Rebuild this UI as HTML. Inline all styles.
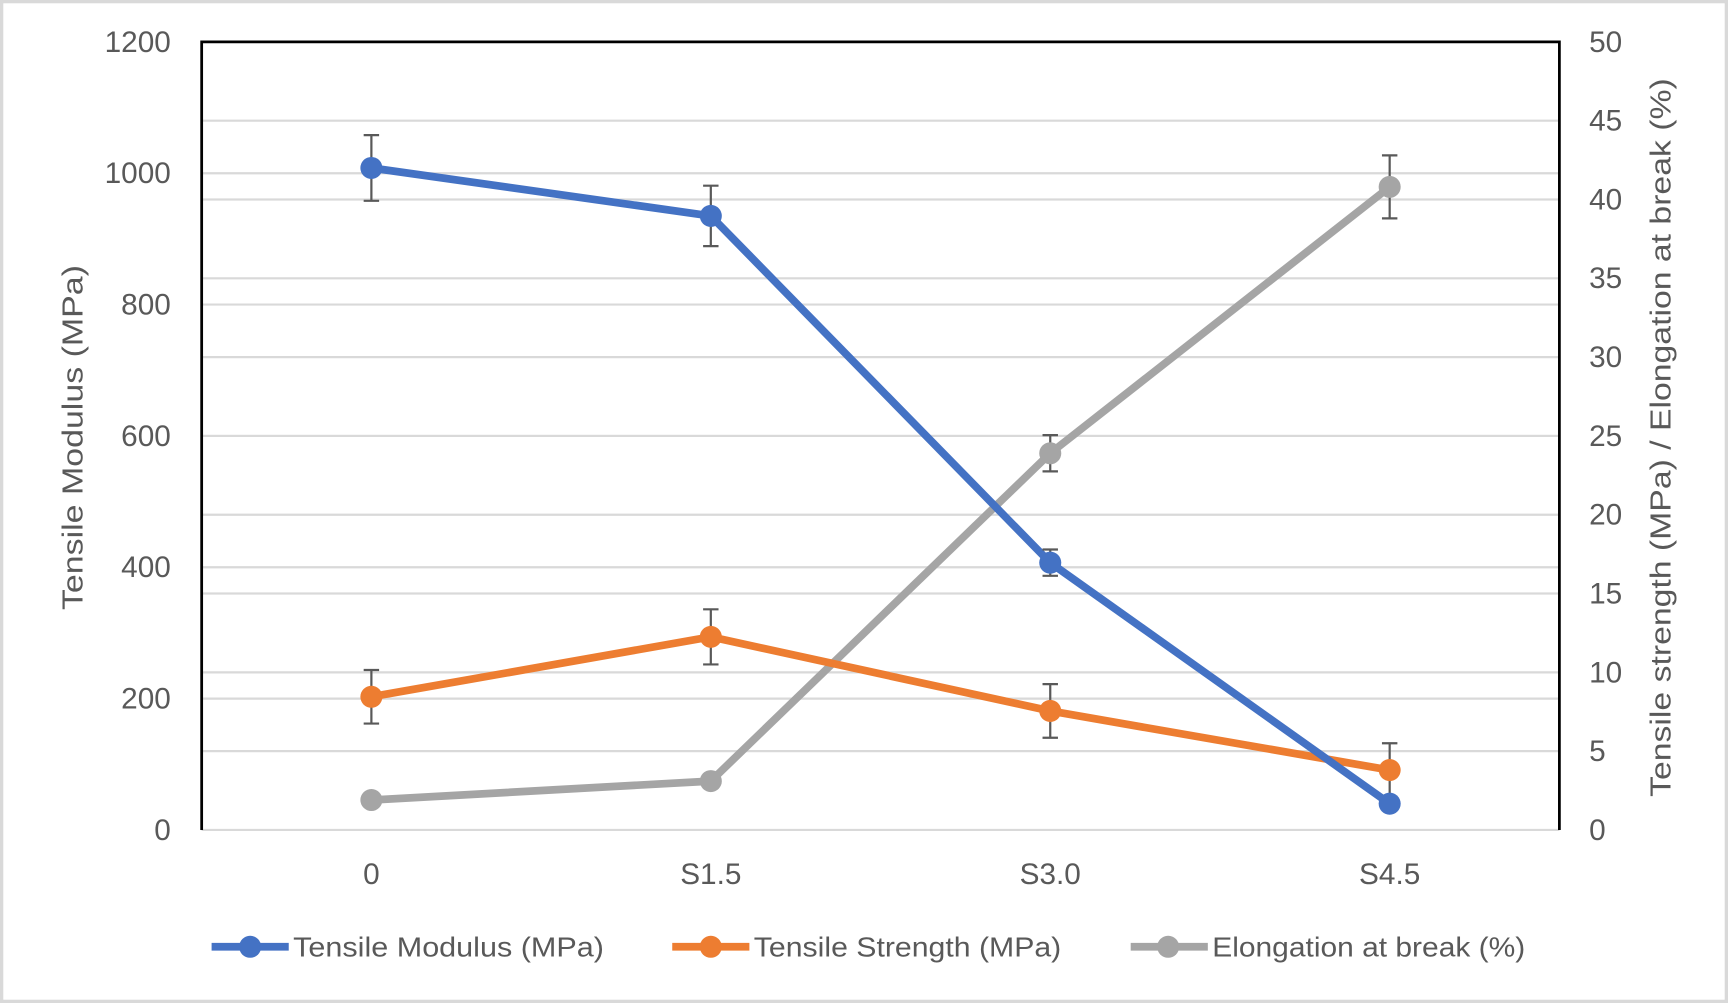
<!DOCTYPE html>
<html><head><meta charset="utf-8"><style>
html,body{margin:0;padding:0;background:#fff}
svg{display:block}
text{font-family:"Liberation Sans",sans-serif;fill:#595959}
</style></head><body>
<svg id="chart" width="1728" height="1003" viewBox="0 0 1568 910" preserveAspectRatio="none" xmlns="http://www.w3.org/2000/svg">
<rect x="1.5" y="1.5" width="1565" height="907" fill="#fff" stroke="#d9d9d9" stroke-width="3"/>
<g id="grid"></g>
<g id="axes"></g>
<g id="series"></g>
<text transform="translate(75,397) rotate(-90)" text-anchor="middle" font-size="26" textLength="313" lengthAdjust="spacingAndGlyphs">Tensile Modulus (MPa)</text>
<text transform="translate(1516,397) rotate(-90)" text-anchor="middle" font-size="26" textLength="652" lengthAdjust="spacingAndGlyphs">Tensile strength (MPa) / Elongation at break (%)</text>
<g>
 <g>
  <line x1="192" y1="859" x2="262" y2="859" stroke="#4472c4" stroke-width="7"/>
  <circle cx="227" cy="859" r="10" fill="#4472c4"/>
  <text x="266" y="868" font-size="25" textLength="282" lengthAdjust="spacingAndGlyphs">Tensile Modulus (MPa)</text>
 </g>
 <g>
  <line x1="610" y1="859" x2="680" y2="859" stroke="#ed7d31" stroke-width="7"/>
  <circle cx="645" cy="859" r="10" fill="#ed7d31"/>
  <text x="684" y="868" font-size="25" textLength="279" lengthAdjust="spacingAndGlyphs">Tensile Strength (MPa)</text>
 </g>
 <g>
  <line x1="1026" y1="859" x2="1096" y2="859" stroke="#a5a5a5" stroke-width="7"/>
  <circle cx="1060" cy="859" r="10" fill="#a5a5a5"/>
  <text x="1100" y="868" font-size="25" textLength="284" lengthAdjust="spacingAndGlyphs">Elongation at break (%)</text>
 </g>
</g>
</svg>
<script>
const categories = ["0", "S1.5", "S3.0", "S4.5"];
const modulus = [1008, 935, 407, 40];
const modulusErr = [50, 46, 20, 8];
const strength = [8.45, 12.25, 7.55, 3.8];
const strengthErr = [1.7, 1.75, 1.7, 1.7];
const elongation = [1.9, 3.1, 23.9, 40.8];
const elongationErr = [0, 0, 1.15, 2.0];
const leftTicks = [0, 200, 400, 600, 800, 1000, 1200];
const rightTicks = [0, 5, 10, 15, 20, 25, 30, 35, 40, 45, 50];

const NS = "http://www.w3.org/2000/svg";
const L = 183, R = 1415, T = 38, B = 753;
const yL = v => B - (v / 1200) * (B - T);
const yR = v => B - (v / 50) * (B - T);
const xC = i => L + (R - L) / categories.length * (i + 0.5);
function mk(tag, parent, attrs) {
  const e = document.createElementNS(NS, tag);
  for (const k in attrs) e.setAttribute(k, attrs[k]);
  parent.appendChild(e);
  return e;
}
const grid = document.getElementById('grid');
const axes = document.getElementById('axes');
const series = document.getElementById('series');

rightTicks.forEach(v => {
  if (v === 0 || v === 50) return;
  const l = mk('line', grid, {x1: L, x2: R, y1: yR(v), y2: yR(v), stroke: '#d9d9d9', 'stroke-width': 2});
  
  
});
leftTicks.forEach(v => {
  if (v === 0 || v === 1200) return;
  const l = mk('line', grid, {x1: L, x2: R, y1: yL(v), y2: yL(v), stroke: '#d9d9d9', 'stroke-width': 2});
  
  
});
const xa = mk('line', axes, {x1: L, x2: R, y1: B, y2: B, stroke: '#d9d9d9', 'stroke-width': 2});


const box = mk('path', axes, {d: `M${L},${B} V${T} H${R} V${B}`, fill: 'none', stroke: '#000', 'stroke-width': 2.5});



leftTicks.forEach(v => {
  const t = mk('text', axes, {x: 155, y: yL(v) + 9, 'text-anchor': 'end', 'font-size': 27});
  t.textContent = v;
  
  
});
rightTicks.forEach(v => {
  const t = mk('text', axes, {x: 1442, y: yR(v) + 9, 'text-anchor': 'start', 'font-size': 27});
  t.textContent = v;
  
  
});
categories.forEach((c, i) => {
  const t = mk('text', axes, {x: xC(i), y: 802, 'text-anchor': 'middle', 'font-size': 27});
  t.textContent = c;
  
  
});

function drawSeries(vals, errs, yf, color, name) {
  const g = mk('g', series, {});
  
  
  const pts = vals.map((v, i) => xC(i) + ',' + yf(v)).join(' ');
  const pl = mk('polyline', g, {points: pts, fill: 'none', stroke: color, 'stroke-width': 7, 'stroke-linejoin': 'round'});
  
  
  vals.forEach((v, i) => {
    const e = errs[i];
    if (e > 0) {
      const x = xC(i), y1 = yf(v + e), y2 = yf(v - e);
      const eb = mk('path', g, {d: `M${x},${y1} V${y2} M${x-7},${y1} H${x+7} M${x-7},${y2} H${x+7}`, stroke: '#595959', 'stroke-width': 2, fill: 'none'});
      
      
    }
  });
  vals.forEach((v, i) => {
    const c = mk('circle', g, {cx: xC(i), cy: yf(v), r: 10, fill: color});
    
    
  });
}
drawSeries(elongation, elongationErr, yR, '#a5a5a5', 'elongation');
drawSeries(strength, strengthErr, yR, '#ed7d31', 'strength');
drawSeries(modulus, modulusErr, yL, '#4472c4', 'modulus');
</script>
</body></html>
